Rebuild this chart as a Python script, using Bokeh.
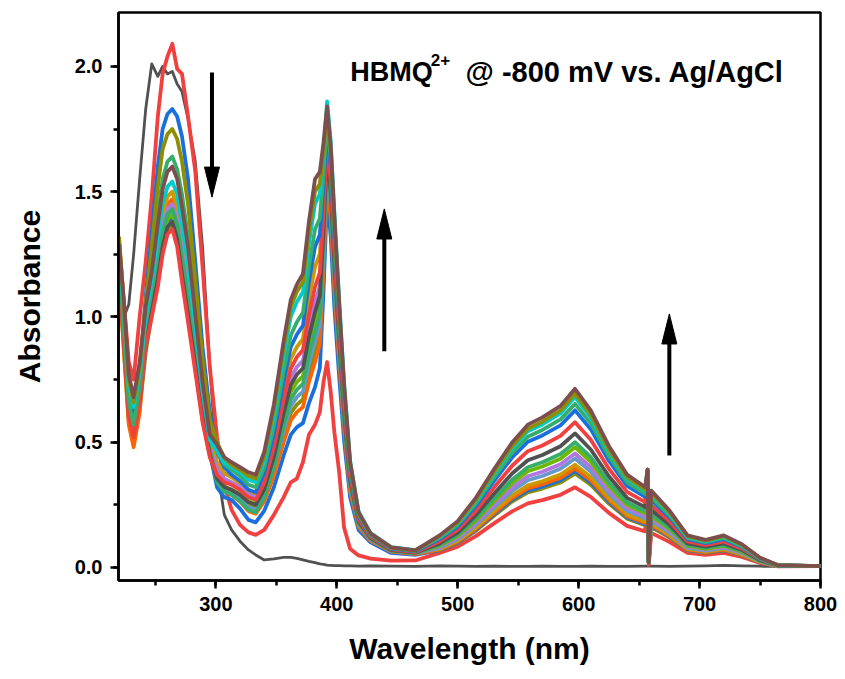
from bokeh.plotting import figure
from bokeh.models import Range1d, SingleIntervalTicker, Label, PrintfTickFormatter
from bokeh.embed import file_html
from bokeh.resources import INLINE

# ---------------- data ----------------
wavelength = [220, 224, 228, 232, 237, 242, 247, 252, 256, 260,
              264, 268, 272, 277, 283, 289, 295, 301, 307, 313,
              320, 327, 333, 340, 348, 356, 362, 367, 372, 377,
              382, 386, 389, 392, 395, 398, 402, 406, 411, 418,
              428, 445, 465, 485, 500, 515, 530, 545, 558, 570,
              585, 597, 610, 625, 640, 655, 657, 658, 660, 675,
              690, 705, 720, 735, 750, 765, 800]

initial = [1.15, 1.00, 1.05, 1.25, 1.55, 1.83, 2.01, 1.96, 2.00, 1.97,
           1.98, 1.93, 1.90, 1.79, 1.62, 1.28, 0.80, 0.40, 0.21, 0.15,
           0.105, 0.07, 0.05, 0.03, 0.034, 0.04, 0.04, 0.036, 0.03, 0.024,
           0.019, 0.014, 0.012, 0.009, 0.008, 0.007, 0.007, 0.006, 0.006, 0.005,
           0.006, 0.005, 0.004, 0.006, 0.005, 0.004, 0.005, 0.004, 0.004, 0.005,
           0.004, 0.004, 0.005, 0.004, 0.004, 0.005, 0.005, 0.005, 0.005, 0.004,
           0.005, 0.006, 0.008, 0.006, 0.005, 0.004, 0.004]

red1 = [1.30, 1.06, 0.82, 0.75, 1.00, 1.22, 1.48, 1.80, 1.97, 2.04,
        2.09, 1.99, 1.97, 1.80, 1.58, 1.20, 0.80, 0.52, 0.33, 0.23,
        0.17, 0.14, 0.13, 0.15, 0.21, 0.28, 0.34, 0.355, 0.42, 0.53,
        0.57, 0.62, 0.74, 0.82, 0.70, 0.54, 0.38, 0.16, 0.075, 0.048,
        0.035, 0.027, 0.028, 0.058, 0.083, 0.125, 0.176, 0.224, 0.256, 0.269,
        0.29, 0.32, 0.282, 0.218, 0.166, 0.144, 0.33, 0.01, 0.138, 0.102,
        0.058, 0.05, 0.058, 0.042, 0.018, 0.004, 0.005]

olive1 = [1.17, 0.87, 0.58, 0.49, 0.63, 0.86, 1.01, 1.14, 1.27, 1.35,
          1.37, 1.30, 1.16, 1.00, 0.80, 0.59, 0.45, 0.34, 0.31, 0.30,
          0.278, 0.245, 0.235, 0.285, 0.389, 0.525, 0.617, 0.65, 0.671, 0.776,
          0.86, 0.932, 1.22, 1.58, 1.42, 1.14, 0.842, 0.574, 0.316, 0.168,
          0.109, 0.064, 0.055, 0.068, 0.098, 0.146, 0.206, 0.263, 0.30, 0.315,
          0.339, 0.375, 0.33, 0.255, 0.195, 0.169, 0.36, 0.02, 0.161, 0.12,
          0.068, 0.058, 0.068, 0.049, 0.021, 0.005, 0.005]

blue2 = [1.19, 0.89, 0.60, 0.51, 0.65, 0.88, 1.03, 1.17, 1.30, 1.38,
         1.40, 1.33, 1.20, 1.04, 0.82, 0.61, 0.46, 0.32, 0.28, 0.27,
         0.235, 0.19, 0.18, 0.226, 0.32, 0.446, 0.53, 0.56, 0.576, 0.656,
         0.72, 0.796, 1.10, 1.48, 1.32, 1.04, 0.76, 0.51, 0.28, 0.15,
         0.10, 0.058, 0.05, 0.069, 0.10, 0.15, 0.212, 0.27, 0.308, 0.323,
         0.348, 0.385, 0.339, 0.262, 0.20, 0.173, 0.36, 0.02, 0.166, 0.123,
         0.069, 0.06, 0.069, 0.05, 0.021, 0.005, 0.005]

orange = [1.17, 0.86, 0.57, 0.48, 0.62, 0.91, 1.09, 1.24, 1.37, 1.45,
          1.47, 1.41, 1.29, 1.12, 0.89, 0.66, 0.48, 0.345, 0.305, 0.29,
          0.263, 0.225, 0.215, 0.264, 0.365, 0.499, 0.588, 0.62, 0.64, 0.74,
          0.82, 0.893, 1.185, 1.55, 1.39, 1.11, 0.818, 0.556, 0.304, 0.162,
          0.106, 0.063, 0.053, 0.071, 0.103, 0.154, 0.217, 0.277, 0.316, 0.332,
          0.357, 0.395, 0.348, 0.269, 0.205, 0.178, 0.37, 0.02, 0.17, 0.126,
          0.071, 0.061, 0.071, 0.051, 0.022, 0.005, 0.005]

gold = [1.25, 1.00, 0.71, 0.62, 0.76, 0.98, 1.12, 1.27, 1.41, 1.48,
        1.50, 1.44, 1.32, 1.16, 0.92, 0.67, 0.50, 0.42, 0.376, 0.36,
        0.335, 0.30, 0.29, 0.361, 0.508, 0.703, 0.833, 0.88, 0.912, 1.072,
        1.20, 1.252, 1.46, 1.72, 1.56, 1.28, 0.954, 0.658, 0.372, 0.196,
        0.123, 0.073, 0.062, 0.074, 0.107, 0.16, 0.226, 0.287, 0.328, 0.344,
        0.371, 0.41, 0.361, 0.279, 0.213, 0.185, 0.37, 0.02, 0.176, 0.131,
        0.074, 0.064, 0.074, 0.053, 0.023, 0.005, 0.005]

lightblue = [1.23, 0.96, 0.67, 0.58, 0.72, 0.94, 1.06, 1.19, 1.32, 1.40,
             1.42, 1.36, 1.23, 1.07, 0.85, 0.62, 0.47, 0.35, 0.313, 0.30,
             0.275, 0.24, 0.23, 0.284, 0.397, 0.545, 0.644, 0.68, 0.702, 0.812,
             0.90, 0.97, 1.25, 1.60, 1.44, 1.16, 0.858, 0.586, 0.324, 0.172,
             0.111, 0.066, 0.056, 0.078, 0.113, 0.17, 0.239, 0.305, 0.348, 0.365,
             0.394, 0.435, 0.383, 0.296, 0.226, 0.196, 0.37, 0.02, 0.187, 0.139,
             0.078, 0.067, 0.078, 0.057, 0.024, 0.006, 0.005]

purple = [1.24, 0.98, 0.69, 0.60, 0.74, 0.96, 1.07, 1.22, 1.36, 1.43,
          1.45, 1.39, 1.26, 1.10, 0.87, 0.64, 0.48, 0.393, 0.354, 0.34,
          0.32, 0.29, 0.28, 0.342, 0.472, 0.644, 0.758, 0.80, 0.826, 0.956,
          1.06, 1.122, 1.37, 1.68, 1.52, 1.24, 0.922, 0.634, 0.356, 0.188,
          0.119, 0.07, 0.06, 0.082, 0.118, 0.177, 0.25, 0.319, 0.364, 0.382,
          0.412, 0.455, 0.40, 0.309, 0.237, 0.205, 0.38, 0.02, 0.196, 0.146,
          0.082, 0.071, 0.082, 0.059, 0.025, 0.006, 0.005]

lightgreen = [1.21, 0.93, 0.64, 0.55, 0.69, 0.91, 1.04, 1.18, 1.31, 1.39,
              1.41, 1.34, 1.21, 1.05, 0.84, 0.62, 0.46, 0.358, 0.323, 0.31,
              0.293, 0.265, 0.255, 0.313, 0.434, 0.595, 0.701, 0.74, 0.764, 0.884,
              0.98, 1.046, 1.31, 1.64, 1.48, 1.20, 0.89, 0.61, 0.34, 0.18,
              0.115, 0.068, 0.058, 0.086, 0.125, 0.187, 0.264, 0.336, 0.384, 0.403,
              0.434, 0.48, 0.422, 0.326, 0.25, 0.216, 0.38, 0.02, 0.206, 0.154,
              0.086, 0.074, 0.086, 0.062, 0.026, 0.006, 0.005]

green1 = [1.22, 0.94, 0.65, 0.56, 0.70, 0.92, 1.06, 1.20, 1.34, 1.41,
          1.43, 1.37, 1.24, 1.08, 0.85, 0.63, 0.47, 0.34, 0.303, 0.29,
          0.265, 0.23, 0.22, 0.279, 0.401, 0.563, 0.671, 0.71, 0.733, 0.848,
          0.94, 1.008, 1.28, 1.62, 1.46, 1.18, 0.874, 0.598, 0.332, 0.176,
          0.113, 0.067, 0.057, 0.09, 0.13, 0.195, 0.275, 0.35, 0.40, 0.42,
          0.453, 0.50, 0.44, 0.34, 0.26, 0.225, 0.38, 0.02, 0.215, 0.16,
          0.09, 0.078, 0.09, 0.065, 0.028, 0.007, 0.005]

gray2 = [1.20, 0.91, 0.62, 0.53, 0.67, 0.89, 1.02, 1.15, 1.28, 1.36,
         1.38, 1.31, 1.17, 1.01, 0.81, 0.60, 0.45, 0.354, 0.321, 0.31,
         0.29, 0.26, 0.25, 0.312, 0.442, 0.614, 0.728, 0.77, 0.795, 0.92,
         1.02, 1.084, 1.34, 1.66, 1.50, 1.22, 0.906, 0.622, 0.348, 0.184,
         0.117, 0.069, 0.059, 0.096, 0.139, 0.209, 0.294, 0.375, 0.428, 0.449,
         0.484, 0.535, 0.471, 0.364, 0.278, 0.241, 0.38, 0.02, 0.23, 0.171,
         0.096, 0.083, 0.096, 0.07, 0.029, 0.007, 0.005]

red2 = [1.19, 0.90, 0.61, 0.52, 0.66, 0.88, 1.00, 1.12, 1.25, 1.33,
        1.35, 1.28, 1.14, 0.98, 0.78, 0.58, 0.44, 0.37, 0.34, 0.33,
        0.31, 0.28, 0.27, 0.338, 0.481, 0.669, 0.794, 0.84, 0.868, 1.008,
        1.12, 1.178, 1.41, 1.70, 1.54, 1.26, 0.938, 0.646, 0.364, 0.192,
        0.121, 0.072, 0.061, 0.104, 0.151, 0.226, 0.319, 0.406, 0.464, 0.487,
        0.525, 0.58, 0.51, 0.394, 0.302, 0.261, 0.38, 0.02, 0.249, 0.186,
        0.104, 0.09, 0.104, 0.075, 0.032, 0.008, 0.005]

blue1 = [1.24, 0.98, 0.69, 0.60, 0.78, 1.08, 1.34, 1.60, 1.75, 1.81,
         1.83, 1.80, 1.72, 1.55, 1.22, 0.88, 0.62, 0.47, 0.40, 0.37,
         0.345, 0.31, 0.30, 0.376, 0.533, 0.741, 0.88, 0.93, 0.965, 1.14,
         1.28, 1.328, 1.52, 1.76, 1.60, 1.32, 0.986, 0.682, 0.388, 0.204,
         0.127, 0.075, 0.064, 0.113, 0.163, 0.245, 0.345, 0.439, 0.502, 0.527,
         0.567, 0.627, 0.552, 0.426, 0.326, 0.282, 0.39, 0.02, 0.27, 0.201,
         0.113, 0.097, 0.113, 0.082, 0.034, 0.008, 0.005]

green2 = [1.22, 0.95, 0.66, 0.57, 0.72, 1.00, 1.20, 1.41, 1.55, 1.62,
          1.64, 1.59, 1.49, 1.32, 1.04, 0.76, 0.55, 0.466, 0.412, 0.39,
          0.365, 0.33, 0.32, 0.399, 0.564, 0.782, 0.927, 0.98, 1.017, 1.202,
          1.35, 1.394, 1.57, 1.79, 1.63, 1.35, 1.01, 0.70, 0.40, 0.21,
          0.13, 0.077, 0.066, 0.118, 0.17, 0.255, 0.359, 0.457, 0.522, 0.549,
          0.591, 0.653, 0.575, 0.444, 0.34, 0.294, 0.39, 0.02, 0.281, 0.209,
          0.118, 0.101, 0.118, 0.085, 0.036, 0.008, 0.005]

cyan = [1.26, 1.02, 0.73, 0.64, 0.78, 1.00, 1.15, 1.31, 1.45, 1.52,
        1.54, 1.49, 1.37, 1.21, 0.96, 0.70, 0.51, 0.464, 0.418, 0.40,
        0.38, 0.35, 0.34, 0.426, 0.606, 0.844, 1.002, 1.06, 1.099, 1.294,
        1.45, 1.491, 1.655, 1.86, 1.70, 1.42, 1.066, 0.742, 0.428, 0.224,
        0.137, 0.081, 0.069, 0.122, 0.177, 0.265, 0.374, 0.476, 0.544, 0.571,
        0.615, 0.68, 0.598, 0.462, 0.354, 0.306, 0.39, 0.02, 0.292, 0.218,
        0.122, 0.105, 0.122, 0.088, 0.037, 0.009, 0.005]

olive2 = [1.32, 1.04, 0.75, 0.66, 0.80, 1.06, 1.28, 1.52, 1.67, 1.73,
          1.75, 1.71, 1.62, 1.45, 1.15, 0.83, 0.59, 0.50, 0.437, 0.41,
          0.39, 0.365, 0.355, 0.444, 0.631, 0.877, 1.04, 1.10, 1.14, 1.34,
          1.50, 1.532, 1.66, 1.82, 1.66, 1.38, 1.034, 0.718, 0.412, 0.216,
          0.133, 0.079, 0.067, 0.125, 0.18, 0.27, 0.381, 0.485, 0.554, 0.582,
          0.627, 0.693, 0.61, 0.471, 0.36, 0.312, 0.39, 0.02, 0.298, 0.222,
          0.125, 0.107, 0.125, 0.09, 0.038, 0.009, 0.005]

brown = [1.29, 1.06, 0.77, 0.68, 0.82, 1.04, 1.18, 1.37, 1.51, 1.58,
         1.60, 1.55, 1.44, 1.28, 1.01, 0.74, 0.53, 0.49, 0.44, 0.42,
         0.40, 0.38, 0.37, 0.461, 0.651, 0.902, 1.069, 1.13, 1.172, 1.382,
         1.55, 1.579, 1.695, 1.84, 1.68, 1.40, 1.05, 0.73, 0.42, 0.22,
         0.135, 0.08, 0.068, 0.128, 0.185, 0.278, 0.392, 0.499, 0.57, 0.599,
         0.645, 0.713, 0.627, 0.485, 0.371, 0.321, 0.39, 0.02, 0.307, 0.228,
         0.128, 0.11, 0.128, 0.093, 0.039, 0.009, 0.005]

# drawing order (first drawn = underneath)
series = [
    (initial, "#515151", 2.8),
    (red1, "#F14040", 3.8),
    (olive1, "#8E8E00", 3.8),
    (blue2, "#1A6FDF", 3.8),
    (orange, "#FB6501", 3.8),
    (gold, "#CC9900", 3.8),
    (lightblue, "#6699CC", 3.8),
    (purple, "#B177DE", 3.8),
    (lightgreen, "#6FB802", 3.8),
    (green1, "#37AD6B", 3.8),
    (gray2, "#515151", 3.8),
    (red2, "#F14040", 3.8),
    (blue1, "#1A6FDF", 3.8),
    (green2, "#37AD6B", 3.8),
    (cyan, "#00CBCC", 3.8),
    (olive2, "#8E8E00", 3.8),
    (brown, "#7D4E4E", 3.8),
]
for vals, _, _ in series:
    assert len(vals) == len(wavelength), len(vals)

# annotation arrows: x (nm), tail absorbance, tip absorbance
arrow_x = [296.8, 439.3, 675.0]
arrow_tail = [1.976, 0.863, 0.447]
arrow_tip = [1.478, 1.431, 1.012]

FONT = "Liberation Sans"

p = figure(width=845, height=679, output_backend="svg", toolbar_location=None,
           x_range=Range1d(219.5, 800), y_range=Range1d(-0.052, 2.215),
           min_border_left=118, min_border_right=25, min_border_top=12,
           min_border_bottom=99)
p.background_fill_color = "white"
p.border_fill_color = "white"
p.grid.visible = False
p.outline_line_color = "black"
p.outline_line_width = 2.5
p.outline_line_alpha = 1.0

for vals, color, lw in series:
    p.line(wavelength, vals, line_color=color, line_width=lw, line_join="round")

# arrows
head_len = 0.12   # absorbance units (~30 px)
head_half = 6.2   # nm (~7.5 px)
for x, yt, yh in zip(arrow_x, arrow_tail, arrow_tip):
    sgn = 1 if yh > yt else -1
    base = yh - sgn * head_len
    p.segment(x0=[x], y0=[yt], x1=[x], y1=[base + sgn * 0.01], line_color="black", line_width=4)
    p.patch([x - head_half, x + head_half, x], [base, base, yh], fill_color="black", line_color="black", line_width=1)

# axes
for ax in (p.xaxis[0], p.yaxis[0]):
    ax.axis_line_color = "black"
    ax.axis_line_width = 2.5
    ax.major_tick_line_color = "black"
    ax.major_tick_line_width = 2.5
    ax.minor_tick_line_color = "black"
    ax.minor_tick_line_width = 2.5
    ax.major_tick_in = 0
    ax.major_tick_out = 8
    ax.minor_tick_in = 0
    ax.minor_tick_out = 5
    ax.major_label_text_font = FONT
    ax.major_label_text_font_style = "bold"
    ax.major_label_text_font_size = "20px"
    ax.major_label_text_color = "black"
    ax.axis_label_text_font = FONT
    ax.axis_label_text_font_style = "bold"
    ax.axis_label_text_font_size = "30px"
    ax.axis_label_text_color = "black"

p.xaxis[0].ticker = SingleIntervalTicker(interval=100, num_minor_ticks=2)
p.yaxis[0].ticker = SingleIntervalTicker(interval=0.5, num_minor_ticks=2)
p.yaxis[0].formatter = PrintfTickFormatter(format="%.1f")
p.xaxis[0].axis_label = "Wavelength (nm)"
p.yaxis[0].axis_label = "Absorbance"
p.xaxis[0].major_label_standoff = 8
p.yaxis[0].major_label_standoff = 8
p.xaxis[0].axis_label_standoff = 18
p.yaxis[0].axis_label_standoff = 26

# title text
p.add_layout(Label(x=411.2, y=1.976, text="HBMQ", text_font=FONT, text_font_style="bold",
                   text_font_size="27px", text_color="black", text_baseline="alphabetic"))
p.add_layout(Label(x=477.8, y=2.024, text="2+", text_font=FONT, text_font_style="bold",
                   text_font_size="17px", text_color="black", text_baseline="alphabetic"))
p.add_layout(Label(x=506.5, y=1.976, text="@ -800 mV vs. Ag/AgCl", text_font=FONT,
                   text_font_style="bold", text_font_size="29px", text_color="black",
                   text_baseline="alphabetic"))

open("out.html", "w").write(file_html(p, INLINE))
